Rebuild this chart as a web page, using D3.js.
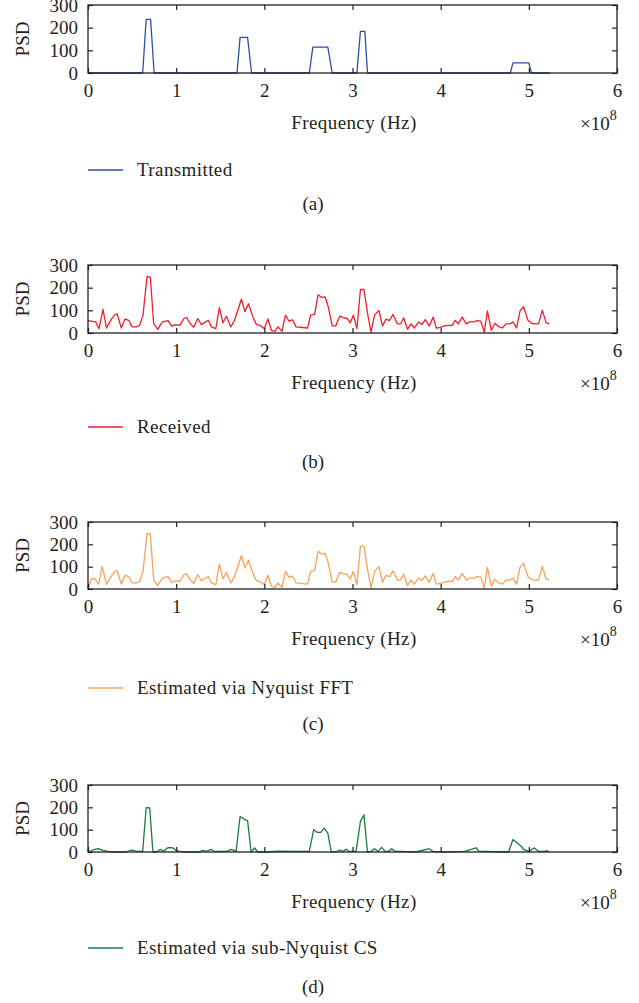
<!DOCTYPE html>
<html>
<head>
<meta charset="utf-8">
<script src="https://cdn.jsdelivr.net/npm/d3@7"></script>
<style>
html,body{margin:0;padding:0;background:#fff;}
text{font-family:'Liberation Serif','Times New Roman',serif;fill:#231f20;}
</style>
</head>
<body>
<script>
// ---------- data ----------
const xTicks = [0, 1, 2, 3, 4, 5, 6];
const yTicks = [0, 100, 200, 300];
const xLabel = "Frequency (Hz)";
const yLabel = "PSD";

// Frequencies in units of 1e8 Hz
const transmittedF = [0, 0.62, 0.66, 0.71, 0.75, 1.69, 1.725, 1.81, 1.855, 2.51, 2.55, 2.72, 2.77, 3.05, 3.09, 3.14, 3.17, 4.79, 4.82, 5.0, 5.03, 5.24];
const transmittedPSD = [0, 0, 237, 237, 0, 0, 157, 157, 0, 0, 114, 114, 0, 0, 184, 184, 0, 0, 45, 45, 0, 0];

const receivedF = [0,0.087,0.125,0.17,0.21,0.265,0.30,0.33,0.378,0.42,0.465,0.50,0.55,0.586,0.624,0.67,0.707,0.745,0.79,0.843,0.907,0.95,0.995,1.04,1.09,1.12,1.157,1.20,1.245,1.285,1.365,1.40,1.45,1.49,1.53,1.57,1.62,1.66,1.74,1.78,1.82,1.87,1.91,1.95,2.0,2.04,2.08,2.12,2.155,2.20,2.24,2.28,2.32,2.36,2.49,2.525,2.57,2.61,2.65,2.69,2.725,2.77,2.81,2.855,2.895,2.94,2.975,3.01,3.05,3.09,3.13,3.174,3.21,3.25,3.30,3.34,3.38,3.42,3.46,3.51,3.545,3.58,3.624,3.665,3.70,3.75,3.787,3.825,3.87,3.915,3.95,4.0,4.04,4.09,4.13,4.165,4.20,4.245,4.29,4.33,4.373,4.415,4.455,4.495,4.53,4.575,4.616,4.657,4.70,4.74,4.786,4.82,4.86,4.90,4.94,4.99,5.03,5.07,5.11,5.153,5.195,5.23];
const receivedPSD = [55,49,19,104,22,61,79,85,22,62,55,27,27,34,79,250,245,42,16,49,55,30,37,34,65,68,42,25,64,37,56,27,19,112,45,74,27,54,149,94,129,71,37,34,19,62,12,7,27,7,79,52,58,27,22,79,82,169,157,159,116,31,31,74,68,64,45,79,19,192,192,79,4,79,100,31,61,55,82,40,40,67,16,40,22,49,37,59,31,70,22,25,31,34,34,56,40,70,40,49,49,55,52,4,97,12,43,28,22,40,40,49,22,97,116,56,43,40,40,101,46,40];

const nyquistF = [0,0.04,0.075,0.12,0.16,0.21,0.265,0.30,0.33,0.378,0.42,0.465,0.50,0.55,0.586,0.624,0.67,0.707,0.745,0.79,0.843,0.907,0.95,0.995,1.04,1.09,1.12,1.157,1.20,1.245,1.285,1.365,1.40,1.45,1.49,1.53,1.57,1.62,1.66,1.74,1.78,1.82,1.87,1.91,1.95,2.0,2.04,2.08,2.12,2.155,2.20,2.24,2.28,2.32,2.36,2.49,2.525,2.57,2.61,2.65,2.69,2.725,2.77,2.81,2.855,2.895,2.94,2.975,3.01,3.05,3.09,3.13,3.174,3.21,3.25,3.30,3.34,3.38,3.42,3.46,3.51,3.545,3.58,3.624,3.665,3.70,3.75,3.787,3.825,3.87,3.915,3.95,4.0,4.04,4.09,4.13,4.165,4.20,4.245,4.29,4.33,4.373,4.415,4.455,4.495,4.53,4.575,4.616,4.657,4.70,4.74,4.786,4.82,4.86,4.90,4.94,4.99,5.03,5.07,5.11,5.153,5.195,5.23];
const nyquistPSD = [0,46,46,21,101,21,58,77,83,22,62,54,27,27,34,79,249,247,42,16,49,55,30,37,34,65,68,42,25,64,37,56,27,19,112,45,74,27,54,149,94,129,71,37,34,19,62,12,7,27,7,79,52,58,27,22,79,82,169,157,159,116,31,31,74,68,64,45,79,19,192,192,79,4,79,100,31,61,55,82,40,40,67,16,40,22,49,37,59,31,70,22,25,31,34,34,56,40,70,40,49,49,55,52,4,97,12,43,28,22,40,40,49,22,97,116,56,43,40,40,101,46,40];

const csF = [0,0.057,0.113,0.17,0.226,0.28,0.43,0.49,0.547,0.62,0.66,0.70,0.736,0.78,0.82,0.857,0.906,0.96,1.0,1.04,1.11,1.26,1.30,1.34,1.40,1.43,1.49,1.58,1.62,1.68,1.725,1.785,1.81,1.85,1.89,1.925,2.02,2.17,2.32,2.51,2.56,2.60,2.64,2.68,2.72,2.76,2.83,2.85,2.89,2.93,2.96,3.04,3.09,3.13,3.17,3.21,3.25,3.29,3.33,3.37,3.41,3.445,3.48,3.55,3.72,3.87,3.91,4.02,4.25,4.28,4.40,4.43,4.51,4.77,4.82,4.92,4.94,5.0,5.06,5.11,5.17,5.21,5.23];
const csPSD = [0,9,15,7,3,0,0,9,3,3,199,197,0,0,12,3,19,19,7,3,0,0,7,3,12,3,3,3,12,4,159,144,141,0,18,0,0,4,3,3,100,88,88,107,85,0,3,9,3,12,3,3,137,166,0,3,15,3,21,3,3,15,3,3,0,15,3,0,3,4,19,4,3,0,56,24,12,3,18,3,3,6,0];

const seriesNames = ["Transmitted", "Received", "Estimated via Nyquist FFT", "Estimated via sub-Nyquist CS"];
const captions = ["(a)", "(b)", "(c)", "(d)"];
const seriesF = [transmittedF, receivedF, nyquistF, csF];
const seriesPSD = [transmittedPSD, receivedPSD, nyquistPSD, csPSD];
const colors = ["#2d4ea8", "#ee1f2b", "#f6a35a", "#1c7b3e"];

// ---------- layout ----------
const W = 639, H = 1003;
const plotLeft = 88, plotRight = 617;
const panels = [
  {top: 5,   bottom: 73,  legendY: 170, captionY: 204},
  {top: 265, bottom: 333, legendY: 427, captionY: 462},
  {top: 522, bottom: 589, legendY: 688, captionY: 724},
  {top: 785, bottom: 852, legendY: 948, captionY: 987}
];
const fs = 19;

const svg = d3.select("body").append("svg").attr("width", W).attr("height", H);
const x = d3.scaleLinear().domain([0, 6]).range([plotLeft, plotRight]);

panels.forEach((p, i) => {
  const y = d3.scaleLinear().domain([0, 300]).range([p.bottom, p.top]);
  const g = svg.append("g");

  // data line
  const pts = seriesF[i].map((f, k) => [f, seriesPSD[i][k]]);
  g.append("path")
    .datum(pts)
    .attr("fill", "none")
    .attr("stroke", colors[i])
    .attr("stroke-width", 1.3)
    .attr("stroke-linejoin", "round")
    .attr("d", d3.line().x(d => x(d[0])).y(d => y(d[1])));

  // axes
  const styleAxis = sel => {
    sel.select(".domain").remove();
    sel.selectAll(".tick line").attr("stroke", "#231f20").attr("stroke-width", 1.2);
    sel.selectAll("text").style("font-size", fs + "px").style("font-family", "'Liberation Serif', serif").attr("fill", "#231f20");
  };
  g.append("g").attr("transform", `translate(0,${p.bottom})`)
    .call(d3.axisBottom(x).tickValues(xTicks).tickFormat(d3.format("d")).tickSizeInner(-5).tickSizeOuter(0).tickPadding(11))
    .call(styleAxis);
  g.append("g").attr("transform", `translate(0,${p.top})`)
    .call(d3.axisTop(x).tickValues(xTicks).tickFormat("").tickSizeInner(-5).tickSizeOuter(0))
    .call(styleAxis);
  g.append("g").attr("transform", `translate(${plotLeft},0)`)
    .call(d3.axisLeft(y).tickValues(yTicks).tickFormat(d3.format("d")).tickSizeInner(-5).tickSizeOuter(0).tickPadding(10))
    .call(styleAxis);
  g.append("g").attr("transform", `translate(${plotRight},0)`)
    .call(d3.axisRight(y).tickValues(yTicks).tickFormat("").tickSizeInner(-5).tickSizeOuter(0))
    .call(styleAxis);

  // frame
  g.append("rect")
    .attr("x", plotLeft).attr("y", p.top)
    .attr("width", plotRight - plotLeft).attr("height", p.bottom - p.top)
    .attr("fill", "none").attr("stroke", "#231f20").attr("stroke-width", 1.3);

  // y label
  g.append("text")
    .attr("transform", `translate(29,${(p.top + p.bottom) / 2}) rotate(-90)`)
    .attr("text-anchor", "middle")
    .style("font-size", fs + "px")
    .text(yLabel);

  // x label
  g.append("text")
    .attr("x", 354).attr("y", p.bottom + 56)
    .attr("text-anchor", "middle")
    .style("font-size", fs + "px")
    .style("letter-spacing", "0.4px")
    .text(xLabel);

  // x10^8
  const e = g.append("text").attr("x", 580).attr("y", p.bottom + 57).style("font-size", fs + "px");
  e.append("tspan").text("×10");
  e.append("tspan").attr("dy", -10).style("font-size", "14px").text("8");

  // legend
  g.append("line")
    .attr("x1", 88).attr("x2", 123)
    .attr("y1", p.legendY).attr("y2", p.legendY)
    .attr("stroke", colors[i]).attr("stroke-width", 1.3);
  g.append("text")
    .attr("x", 137).attr("y", p.legendY + 6)
    .style("font-size", fs + "px")
    .style("letter-spacing", "0.4px")
    .text(seriesNames[i]);

  // caption
  g.append("text")
    .attr("x", 313).attr("y", p.captionY + 6)
    .attr("text-anchor", "middle")
    .style("font-size", fs + "px")
    .text(captions[i]);
});
</script>
</body>
</html>
